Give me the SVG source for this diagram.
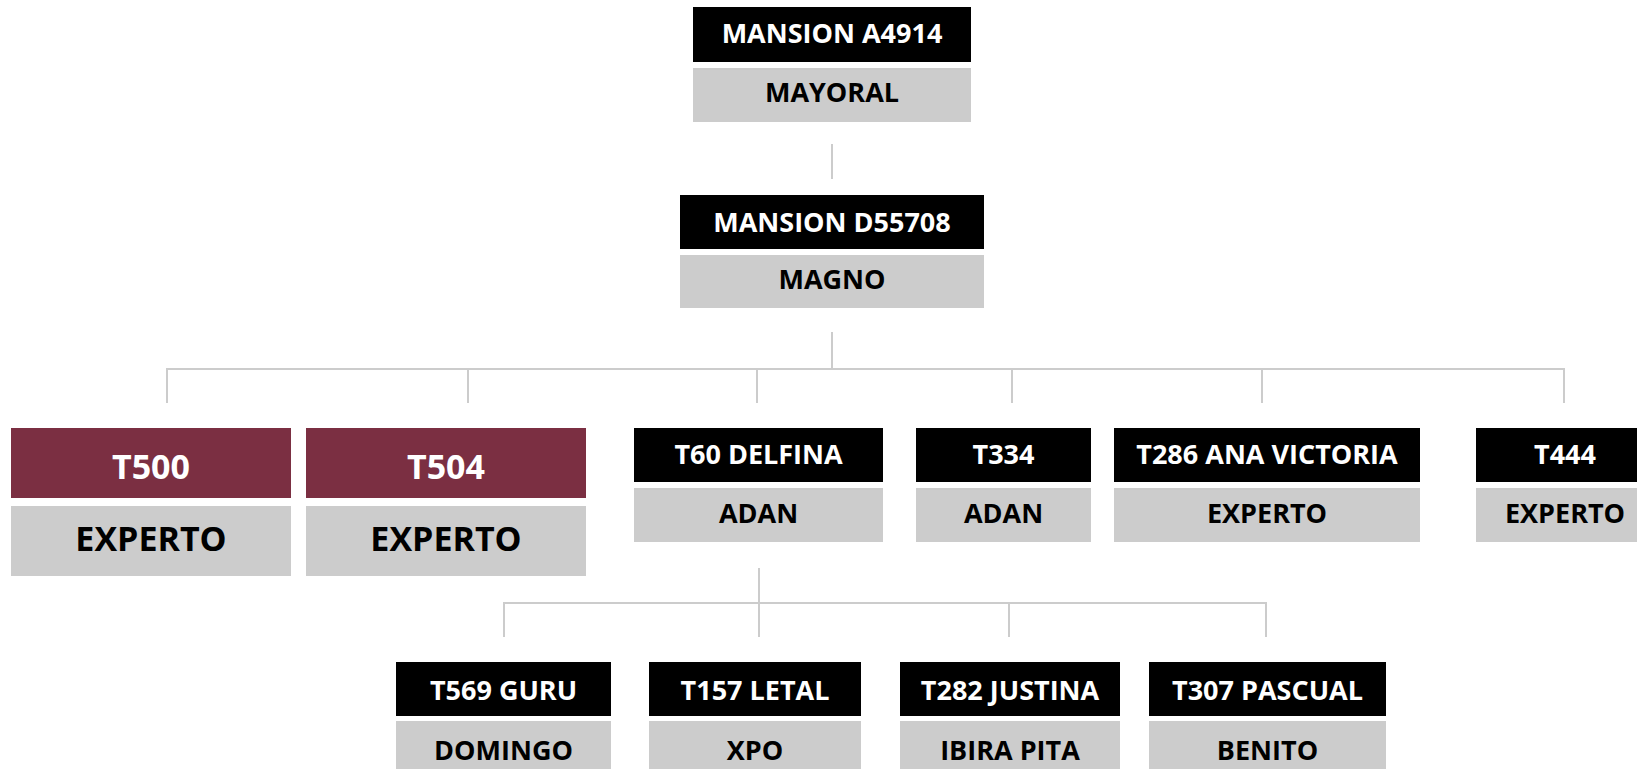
<svg xmlns="http://www.w3.org/2000/svg" width="1637" height="769" viewBox="0 0 1637 769">
<style>
.hd{fill:#000000}
.rd{fill:#7B2F42}
.sb{fill:#CCCCCC}
.t{font-family:"Open Sans",Lato,sans-serif;font-weight:bold;text-anchor:middle}
.w{fill:#FFFFFF;font-size:27px}
.k{fill:#000000;font-size:27px}
.wl{fill:#FFFFFF;font-size:34px}
.kl{fill:#000000;font-size:34px}
.c{stroke:#CCCCCC;stroke-width:2;fill:none}
</style>
<rect width="1637" height="769" fill="#FFFFFF"/>
<g id="connectors">
<line class="c" x1="832" y1="144" x2="832" y2="179"/>
<line class="c" x1="832" y1="332" x2="832" y2="369"/>
<line class="c" x1="166" y1="369" x2="1565" y2="369"/>
<line class="c" x1="167" y1="369" x2="167" y2="403"/>
<line class="c" x1="468" y1="369" x2="468" y2="403"/>
<line class="c" x1="757" y1="369" x2="757" y2="403"/>
<line class="c" x1="1012" y1="369" x2="1012" y2="403"/>
<line class="c" x1="1262" y1="369" x2="1262" y2="403"/>
<line class="c" x1="1564" y1="369" x2="1564" y2="403"/>
<line class="c" x1="759" y1="568" x2="759" y2="637"/>
<line class="c" x1="503" y1="603" x2="1267" y2="603"/>
<line class="c" x1="504" y1="603" x2="504" y2="637"/>
<line class="c" x1="1009" y1="603" x2="1009" y2="637"/>
<line class="c" x1="1266" y1="603" x2="1266" y2="637"/>
</g>
<g id="n-a4914">
<rect class="hd" x="693" y="7" width="278" height="55"/>
<text class="t w" x="832" y="43">MANSION A4914</text>
<rect class="sb" x="693" y="68" width="278" height="54"/>
<text class="t k" x="832" y="102">MAYORAL</text>
</g>
<g id="n-d55708">
<rect class="hd" x="680" y="195" width="304" height="54"/>
<text class="t w" x="832" y="232">MANSION D55708</text>
<rect class="sb" x="680" y="255" width="304" height="53"/>
<text class="t k" x="832" y="289">MAGNO</text>
</g>
<g id="n-t500">
<rect class="rd" x="11" y="428" width="280" height="70"/>
<text class="t wl" x="151" y="479">T500</text>
<rect class="sb" x="11" y="506" width="280" height="70"/>
<text class="t kl" x="151" y="551">EXPERTO</text>
</g>
<g id="n-t504">
<rect class="rd" x="306" y="428" width="280" height="70"/>
<text class="t wl" x="446" y="479">T504</text>
<rect class="sb" x="306" y="506" width="280" height="70"/>
<text class="t kl" x="446" y="551">EXPERTO</text>
</g>
<g id="n-t60">
<rect class="hd" x="634" y="428" width="249" height="54"/>
<text class="t w" x="758.5" y="464">T60 DELFINA</text>
<rect class="sb" x="634" y="488" width="249" height="54"/>
<text class="t k" x="758.5" y="523">ADAN</text>
</g>
<g id="n-t334">
<rect class="hd" x="916" y="428" width="175" height="54"/>
<text class="t w" x="1003.5" y="464">T334</text>
<rect class="sb" x="916" y="488" width="175" height="54"/>
<text class="t k" x="1003.5" y="523">ADAN</text>
</g>
<g id="n-t286">
<rect class="hd" x="1114" y="428" width="306" height="54"/>
<text class="t w" x="1267" y="464">T286 ANA VICTORIA</text>
<rect class="sb" x="1114" y="488" width="306" height="54"/>
<text class="t k" x="1267" y="523">EXPERTO</text>
</g>
<g id="n-t444">
<rect class="hd" x="1476" y="428" width="180" height="54"/>
<text class="t w" x="1565" y="464">T444</text>
<rect class="sb" x="1476" y="488" width="180" height="54"/>
<text class="t k" x="1565" y="523">EXPERTO</text>
</g>
<g id="n-t569">
<rect class="hd" x="396" y="662" width="215" height="54"/>
<text class="t w" x="503.5" y="700">T569 GURU</text>
<rect class="sb" x="396" y="721" width="215" height="54"/>
<text class="t k" x="503.5" y="760">DOMINGO</text>
</g>
<g id="n-t157">
<rect class="hd" x="649" y="662" width="212" height="54"/>
<text class="t w" x="755" y="700">T157 LETAL</text>
<rect class="sb" x="649" y="721" width="212" height="54"/>
<text class="t k" x="755" y="760">XPO</text>
</g>
<g id="n-t282">
<rect class="hd" x="900" y="662" width="220" height="54"/>
<text class="t w" x="1010" y="700">T282 JUSTINA</text>
<rect class="sb" x="900" y="721" width="220" height="54"/>
<text class="t k" x="1010" y="760">IBIRA PITA</text>
</g>
<g id="n-t307">
<rect class="hd" x="1149" y="662" width="237" height="54"/>
<text class="t w" x="1267.5" y="700">T307 PASCUAL</text>
<rect class="sb" x="1149" y="721" width="237" height="54"/>
<text class="t k" x="1267.5" y="760">BENITO</text>
</g>
</svg>
